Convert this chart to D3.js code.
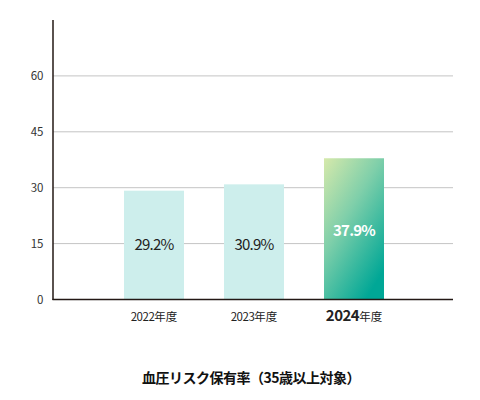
<!DOCTYPE html>
<html lang="ja">
  <head>
    <meta charset="utf-8">
    <title>血圧リスク保有率</title>
    <script src="https://d3js.org/d3.v7.min.js"></script>
    <style>
      body { margin: 0; background: #fff; }
      text { font-family: "Noto Sans CJK JP", "Noto Sans", sans-serif; }
    </style>
  </head>
  <body>
    <script>
const years = ['2022', '2023', '2024']
const values = [29.2, 30.9, 37.9]
const yTicks = [0, 15, 30, 45, 60]
const yearSuffix = '年度'
const title = '血圧リスク保有率（35歳以上対象）'

const dims = { width: 480, height: 400, left: 53, right: 453, top: 20, bottom: 299.5 }

const svg = d3.select('body')
  .append('svg')
  .attr('width', dims.width)
  .attr('height', dims.height)

const defs = svg.append('defs')
const grad = defs.append('linearGradient')
  .attr('id', 'hl')
  .attr('x1', '0').attr('y1', '0')
  .attr('x2', '0.7').attr('y2', '1')
grad.append('stop').attr('offset', '0%').attr('stop-color', '#d6e9ab')
grad.append('stop').attr('offset', '45%').attr('stop-color', '#7fcfaa')
grad.append('stop').attr('offset', '100%').attr('stop-color', '#00a796')

const x = d3.scaleBand()
  .domain(years)
  .range([104, 404])
  .paddingInner(0.4)
  .paddingOuter(0.2)

const y = d3.scaleLinear()
  .domain([0, 75])
  .range([dims.bottom, dims.top])

// gridlines
svg.append('g')
  .selectAll('line')
  .data(yTicks.filter(d => d > 0))
  .join('line')
  .attr('x1', dims.left)
  .attr('x2', dims.right)
  .attr('y1', d => y(d))
  .attr('y2', d => y(d))
  .attr('stroke', '#c4c4c4')
  .attr('stroke-width', 1)

// y tick labels
svg.append('g')
  .selectAll('text')
  .data(yTicks)
  .join('text')
  .attr('x', 43)
  .attr('y', d => y(d))
  .attr('dy', '0.35em')
  .attr('text-anchor', 'end')
  .attr('font-size', 11.5)
  .attr('letter-spacing', -0.3)
  .attr('fill', '#333')
  .text(d => d)

// bars
svg.append('g')
  .selectAll('rect')
  .data(values)
  .join('rect')
  .attr('x', (d, i) => x(years[i]))
  .attr('y', d => y(d))
  .attr('width', x.bandwidth())
  .attr('height', d => y(0) - y(d))
  .attr('fill', (d, i) => i === values.length - 1 ? 'url(#hl)' : '#cdeeec')

// value labels
svg.append('g')
  .selectAll('text')
  .data(values)
  .join('text')
  .attr('x', (d, i) => x(years[i]) + x.bandwidth() / 2)
  .attr('y', (d, i) => i === values.length - 1 ? 231 : 245)
  .attr('dy', '0.35em')
  .attr('text-anchor', 'middle')
  .attr('font-size', 15)
  .attr('letter-spacing', -0.8)
  .attr('font-weight', (d, i) => i === values.length - 1 ? 700 : 400)
  .attr('fill', (d, i) => i === values.length - 1 ? '#fff' : '#222')
  .text(d => d.toFixed(1) + '%')

// axes lines
svg.append('line')
  .attr('x1', dims.left).attr('x2', dims.left)
  .attr('y1', dims.top).attr('y2', dims.bottom + 0.5)
  .attr('stroke', '#231815').attr('stroke-width', 1.5)
svg.append('line')
  .attr('x1', dims.left - 0.5).attr('x2', dims.right)
  .attr('y1', dims.bottom).attr('y2', dims.bottom)
  .attr('stroke', '#231815').attr('stroke-width', 1.5)

// category labels
const cat = svg.append('g')
  .selectAll('text')
  .data(years)
  .join('text')
  .attr('x', d => x(d) + x.bandwidth() / 2)
  .attr('y', 315)
  .attr('dy', '0.35em')
  .attr('text-anchor', 'middle')
  .attr('fill', '#222')
cat.append('tspan')
  .attr('font-size', (d, i) => i === years.length - 1 ? 15 : 11.5)
  .attr('font-weight', (d, i) => i === years.length - 1 ? 700 : 400)
  .attr('letter-spacing', -0.5)
  .text(d => d)
cat.append('tspan')
  .attr('font-size', 11.5)
  .text(yearSuffix)

// title
svg.append('text')
  .attr('x', 251)
  .attr('y', 378)
  .attr('dy', '0.35em')
  .attr('text-anchor', 'middle')
  .attr('font-size', 14)
  .attr('font-weight', 700)
  .attr('letter-spacing', -0.5)
  .attr('fill', '#111')
  .text(title)
    </script>
  </body>
</html>
